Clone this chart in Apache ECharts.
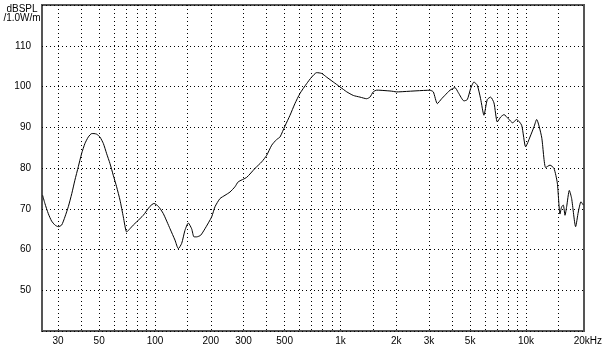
<!DOCTYPE html>
<html>
<head>
<meta charset="utf-8">
<script src="https://cdn.jsdelivr.net/npm/echarts@6/dist/echarts.min.js"></script>
<style>html,body{margin:0;padding:0;background:#fff}#c{width:606px;height:348px}</style>
</head>
<body>
<div id="c"></div>
<script>
// Frequency (Hz) and SPL (dB)
var freqHz = [24.8,25.5,26.6,27.7,28.9,30.1,31.4,32.7,34.1,35.6,37.0,38.6,40.2,41.9,43.7,45.6,46.9,48.5,50.5,52.7,54.9,57.2,59.6,62.1,64.8,67.5,70.4,73.3,76.4,79.7,86.5,94.0,98.8,104.2,110.9,120.5,128.2,133.6,139.3,145.1,151.2,157.6,162.3,167.7,176.3,186.0,202.1,210.7,224.1,238.5,253.7,
  270,281,312,346,376,400,426,453,472,502,534,568,605,657,699,744,792,842,915,994,1080,1173,1274,1384,1442,1503,1567,1633,1849,1927,2008,2094,
  3037,3166,3327,3511,3659,3893,4142,4317,4632,4828,5031,5243,5465,5694,5935,6186,6449,6722,7004,7302,7610,8033,8475,8904,9476,9959,10510,11045,11414,12147,12765,13473,14160,14757,15253,15572,15898,16230,16569,17127,17628,18520,19145,19790,20370];
var splDb = [73.3,71.3,68.8,67.0,66.0,65.6,66.0,68.0,70.5,73.7,77.0,80.3,83.5,86.0,87.6,88.45,88.45,88.3,87.6,86.0,83.5,81.1,78.2,75.4,72.1,68.0,64.3,65.1,66.0,66.8,68.4,70.6,71.3,70.6,68.8,65.1,62.3,60.2,61.5,64.7,66.5,65.1,63.1,63.1,63.5,65.1,68.0,70.5,72.5,73.3,74.1,
  75.4,76.6,77.7,79.9,81.5,83.1,85.6,87.0,87.6,90.3,92.9,95.8,98.3,100.7,102.3,103.4,103.2,102.3,101.1,99.9,98.7,97.8,97.4,97.0,97.4,98.7,99.1,99.08,98.9,98.8,98.67,98.7,
  99.08,98.67,95.8,97.0,97.85,99.08,99.73,98.5,96.46,96.8,99.5,101.1,100.3,97.0,92.95,96.8,97.4,95.97,91.3,92.5,93.1,92.1,91.1,91.9,90.5,85.2,87.6,90.1,91.9,87.6,80.1,80.7,79.9,76.3,68.7,70.5,70.9,68.4,70.5,74.5,72.5,65.6,69.2,71.7,70.9];

var xLabelValues = [30,50,100,200,300,500,1000,2000,3000,5000,10000,20000];
var xLabelTexts = ['30','50','100','200','300','500','1k','2k','3k','5k','10k','20kHz'];
var xGridValues = [30,40,50,60,70,80,90,100,150,200,300,400,500,600,700,800,900,1000,1500,2000,3000,4000,5000,6000,7000,8000,9000,10000,15000];
var yTickValues = [50,60,70,80,90,100,110];

var data = freqHz.map(function (f, i) { return [f, splDb[i]]; });
var FONT = '"Liberation Sans", Arial, sans-serif';

var chart = echarts.init(document.getElementById('c'), null, {renderer: 'canvas'});
chart.setOption({
  animation: false,
  backgroundColor: '#fff',
  grid: {left: 42, right: 22, top: 5, bottom: 17, show: true, borderColor: '#555', borderWidth: 2, containLabel: false},
  graphic: [{
    type: 'text', x: 22, y: 5,
    style: {text: 'dBSPL\n/1.0W/m', font: '10px ' + FONT, fill: '#000', align: 'center', verticalAlign: 'top', lineHeight: 9}
  }],
  xAxis: {
    type: 'log', min: 24.6, max: 20550, logBase: 10,
    axisLine: {show: false},
    axisTick: {show: false, customValues: xGridValues},
    axisLabel: {
      customValues: xLabelValues, margin: 5, color: '#000', fontSize: 10, fontFamily: FONT,
      formatter: function (v) {
        var i = xLabelValues.indexOf(Math.round(v));
        if (i < 0) return '';
        return i === xLabelValues.length - 1 ? '{h|' + xLabelTexts[i] + '}' : xLabelTexts[i];
      },
      rich: {h: {padding: [0, 0, 0, 12], fontSize: 10, fontFamily: FONT, color: '#000'}}
    },
    splitLine: {show: true, lineStyle: {color: '#000', width: 1, type: [1, 3]}}
  },
  yAxis: {
    type: 'value', min: 40, max: 120, interval: 10,
    axisLine: {show: false},
    axisTick: {show: false},
    axisLabel: {
      margin: 11, color: '#000', fontSize: 10, fontFamily: FONT,
      formatter: function (v) { return yTickValues.indexOf(v) >= 0 ? String(v) : ''; }
    },
    splitLine: {show: true, lineStyle: {color: '#000', width: 1, type: [1, 3]}}
  },
  series: [{
    type: 'line', data: data, showSymbol: false, smooth: 0.2,
    lineStyle: {color: '#000', width: 1}
  }]
});
</script>
</body>
</html>
